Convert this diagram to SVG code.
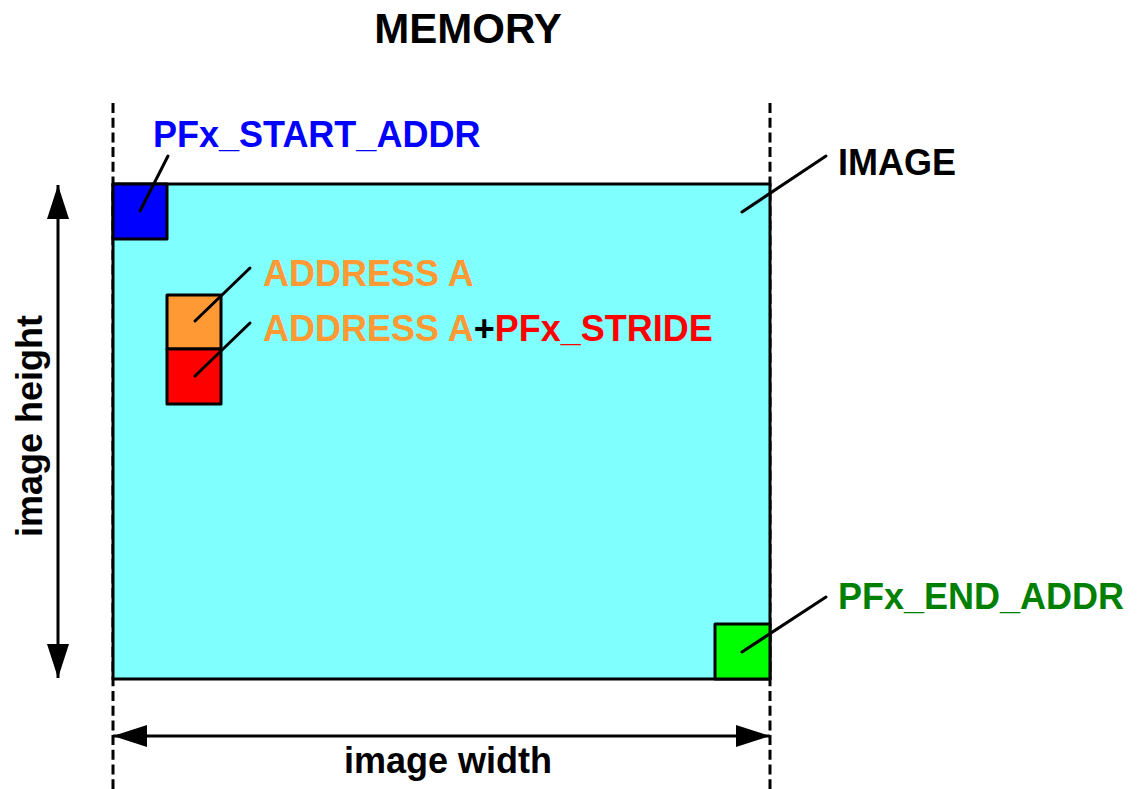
<svg xmlns="http://www.w3.org/2000/svg" width="1139" height="789" viewBox="0 0 1139 789">
  <style>
    text { font-family: "Liberation Sans", Arial, sans-serif; font-weight: bold; font-size: 36px; }
    text.title { font-size: 42px; }
    .box { stroke: #000; stroke-width: 3; stroke-linejoin: round; }
    .leader { stroke: #000; stroke-width: 3; stroke-linecap: round; fill: none; }
    .guide { stroke: #000; stroke-width: 3; stroke-dasharray: 10 4.7; fill: none; }
    .dim { stroke: #000; stroke-width: 3; fill: none; }
  </style>
  <defs>
    <marker id="head" viewBox="0 0 34 22" refX="34" refY="11" markerWidth="34" markerHeight="22" markerUnits="userSpaceOnUse" orient="auto-start-reverse">
      <path d="M0,0 L34,11 L0,22 Z" fill="#000"/>
    </marker>
  </defs>

  <rect width="1139" height="789" fill="#fff"/>

  <text class="title" x="468" y="43" text-anchor="middle">MEMORY</text>

  <!-- extent guides -->
  <g id="guides">
    <line class="guide" x1="113" y1="103" x2="113" y2="789"/>
    <line class="guide" x1="770" y1="103" x2="770" y2="789"/>
  </g>

  <g id="image">
    <rect class="box" x="113" y="184" width="657" height="495" fill="#80FFFF"/>
  </g>
  <g id="start-addr">
    <rect class="box" x="113" y="184" width="54" height="55" fill="#0000FF"/>
  </g>
  <g id="address-a">
    <rect class="box" x="167" y="295" width="54" height="54" fill="#FF9933"/>
  </g>
  <g id="address-a-stride">
    <rect class="box" x="167" y="349" width="54" height="55" fill="#FF0000"/>
  </g>
  <g id="end-addr">
    <rect class="box" x="715" y="624" width="55" height="55" fill="#00FF00"/>
  </g>

  <g id="connectors">
    <line class="leader" x1="140" y1="211" x2="168" y2="156"/>
    <line class="leader" x1="195" y1="321" x2="250" y2="268"/>
    <line class="leader" x1="195" y1="376" x2="250" y2="323"/>
    <line class="leader" x1="742" y1="652" x2="826" y2="597"/>
    <line class="leader" x1="742" y1="212" x2="826" y2="156"/>
    <line class="dim" x1="58" y1="185" x2="58" y2="678" marker-start="url(#head)" marker-end="url(#head)"/>
    <line class="dim" x1="113" y1="736" x2="770" y2="736" marker-start="url(#head)" marker-end="url(#head)"/>
  </g>

  <g id="labels">
    <text x="153" y="147" fill="#0000FF">PFx_START_ADDR</text>
    <text x="838" y="175" fill="#000">IMAGE</text>
    <text x="263" y="286" fill="#FF9933">ADDRESS A</text>
    <text x="263" y="341"><tspan fill="#FF9933">ADDRESS A</tspan><tspan fill="#000">+</tspan><tspan fill="#FF0000">PFx_STRIDE</tspan></text>
    <text x="838" y="609" fill="#008000">PFx_END_ADDR</text>
    <text x="448" y="773" text-anchor="middle" fill="#000">image width</text>
    <text transform="translate(42 426) rotate(-90)" text-anchor="middle" fill="#000">image height</text>
  </g>
</svg>
